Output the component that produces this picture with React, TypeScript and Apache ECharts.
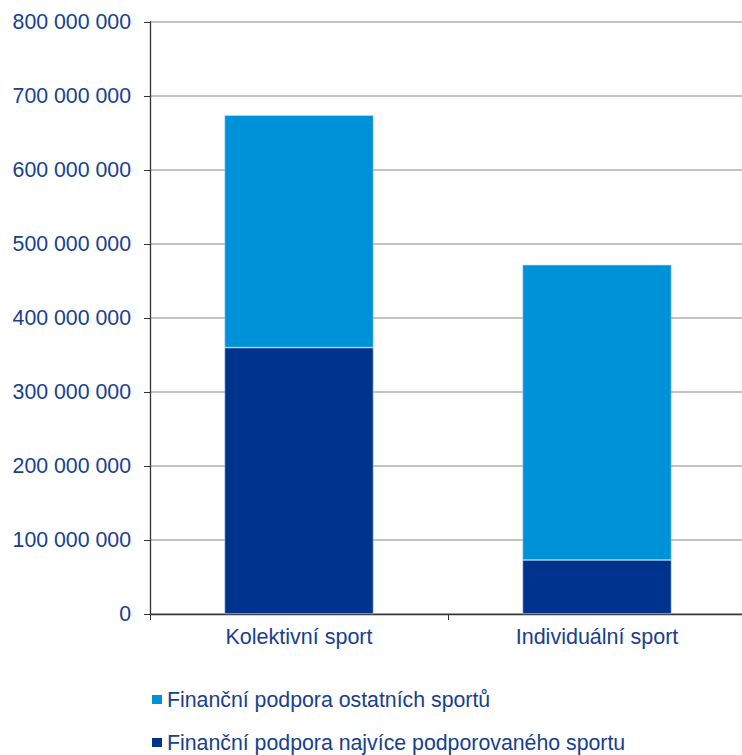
import React, { useEffect, useRef } from "react";
import * as echarts from "echarts";

const categories = ["Kolektivní sport", "Individuální sport"];
const seriesNames = [
  "Finanční podpora najvíce podporovaného sportu",
  "Finanční podpora ostatních sportů",
];
const topSportValues = [360000000, 73000000];
const otherSportsValues = [314000000, 399000000];
const yTicks = { min: 0, max: 800000000, interval: 100000000 };

const TEXT = "#17408f";
const FONT = "Liberation Sans, Arial, sans-serif";

const fmt = (v: number) => String(v).replace(/\B(?=(\d{3})+(?!\d))/g, " ");

export default function App() {
  const ref = useRef<HTMLDivElement>(null);
  useEffect(() => {
    if (!ref.current) return;
    const chart = echarts.init(ref.current, undefined, { renderer: "svg" });
    const legendBase = {
      orient: "horizontal",
      left: 152,
      itemWidth: 10,
      itemHeight: 9,
      icon: "rect",
      itemGap: 0,
      padding: 0,
      itemStyle: { borderWidth: 0 },
      textStyle: { color: TEXT, fontSize: 21.3, fontFamily: FONT },
    };
    chart.setOption({
      animation: false,
      textStyle: { fontFamily: FONT },
      grid: { left: 150, right: 0, top: 22, bottom: 141, containLabel: false },
      legend: [
        { ...legendBase, top: 689, data: [seriesNames[1]] },
        { ...legendBase, top: 732, data: [seriesNames[0]] },
      ],
      xAxis: {
        type: "category",
        data: categories,
        axisLine: { lineStyle: { color: "#333", width: 1.3 } },
        axisTick: { show: true, length: 6, lineStyle: { color: "#333" } },
        axisLabel: { color: TEXT, fontSize: 21.5, margin: 12, fontFamily: FONT },
      },
      yAxis: {
        type: "value",
        min: yTicks.min,
        max: yTicks.max,
        interval: yTicks.interval,
        axisLine: { show: true, lineStyle: { color: "#333", width: 1.3 } },
        axisTick: { show: true, length: 6, lineStyle: { color: "#333" } },
        axisLabel: { color: TEXT, fontSize: 21.3, margin: 19, formatter: fmt, fontFamily: FONT },
        splitLine: { lineStyle: { color: "#c4c4c4", width: 2 } },
      },
      series: [
        {
          name: seriesNames[0],
          type: "bar",
          stack: "total",
          barWidth: "50%",
          data: topSportValues,
          itemStyle: { color: "#00338d", borderColor: "#b9def4", borderWidth: 0.6 },
        },
        {
          name: seriesNames[1],
          type: "bar",
          stack: "total",
          barWidth: "50%",
          data: otherSportsValues,
          itemStyle: { color: "#0092d9", borderColor: "#b9def4", borderWidth: 0.6 },
        },
      ],
    });
    return () => chart.dispose();
  }, []);
  return (
    <div
      ref={ref}
      style={{ position: "fixed", left: 0, top: 0, width: 746, height: 755, background: "#fff" }}
    />
  );
}
